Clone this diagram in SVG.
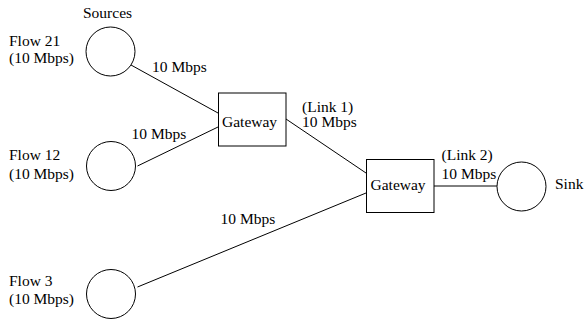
<svg xmlns="http://www.w3.org/2000/svg" width="584" height="320" viewBox="0 0 584 320">
<style>
text{font-family:'Liberation Serif','Times New Roman','DejaVu Serif',serif;font-size:15.5px;fill:#000}
.n{fill:#fff;stroke:#000;stroke-width:1}
.c{stroke:#000;stroke-width:1;fill:none}
</style>
<rect width="584" height="320" fill="#fff"/>
<g id="connectors" font-family="Liberation Serif, serif">
<line class="c" x1="131" y1="65" x2="218" y2="113"/>
<line class="c" x1="137.5" y1="166" x2="218" y2="127"/>
<line class="c" x1="286" y1="119" x2="366" y2="173"/>
<line class="c" x1="137.5" y1="287" x2="366" y2="193"/>
<line class="c" x1="434" y1="186" x2="497" y2="186"/>
<text x="152" y="72">10 Mbps</text>
<text x="131.5" y="139">10 Mbps</text>
<text x="302" y="112">(Link 1)</text>
<text x="302" y="126.5">10 Mbps</text>
<text x="220.5" y="224">10 Mbps</text>
<text x="441.5" y="160">(Link 2)</text>
<text x="441.5" y="179">10 Mbps</text>
</g>
<g id="flow21">
<circle class="n" cx="110.5" cy="51.5" r="24.5"/>
<text x="83" y="18">Sources</text>
<text x="9" y="45.5">Flow 21</text>
<text x="9" y="63">(10 Mbps)</text>
</g>
<g id="flow12">
<circle class="n" cx="111" cy="166" r="24.5"/>
<text x="9" y="160">Flow 12</text>
<text x="9" y="178.5">(10 Mbps)</text>
</g>
<g id="flow3">
<circle class="n" cx="111" cy="294" r="24.5"/>
<text x="9" y="286">Flow 3</text>
<text x="9" y="304">(10 Mbps)</text>
</g>
<g id="gateway1">
<rect class="n" x="218.5" y="93" width="67.5" height="53"/>
<text x="222" y="126.5">Gateway</text>
</g>
<g id="gateway2">
<rect class="n" x="366.5" y="159.5" width="67.5" height="53"/>
<text x="370.5" y="189.5">Gateway</text>
</g>
<g id="sink">
<circle class="n" cx="521.5" cy="186.5" r="24.5"/>
<text x="555" y="189">Sink</text>
</g>
</svg>
